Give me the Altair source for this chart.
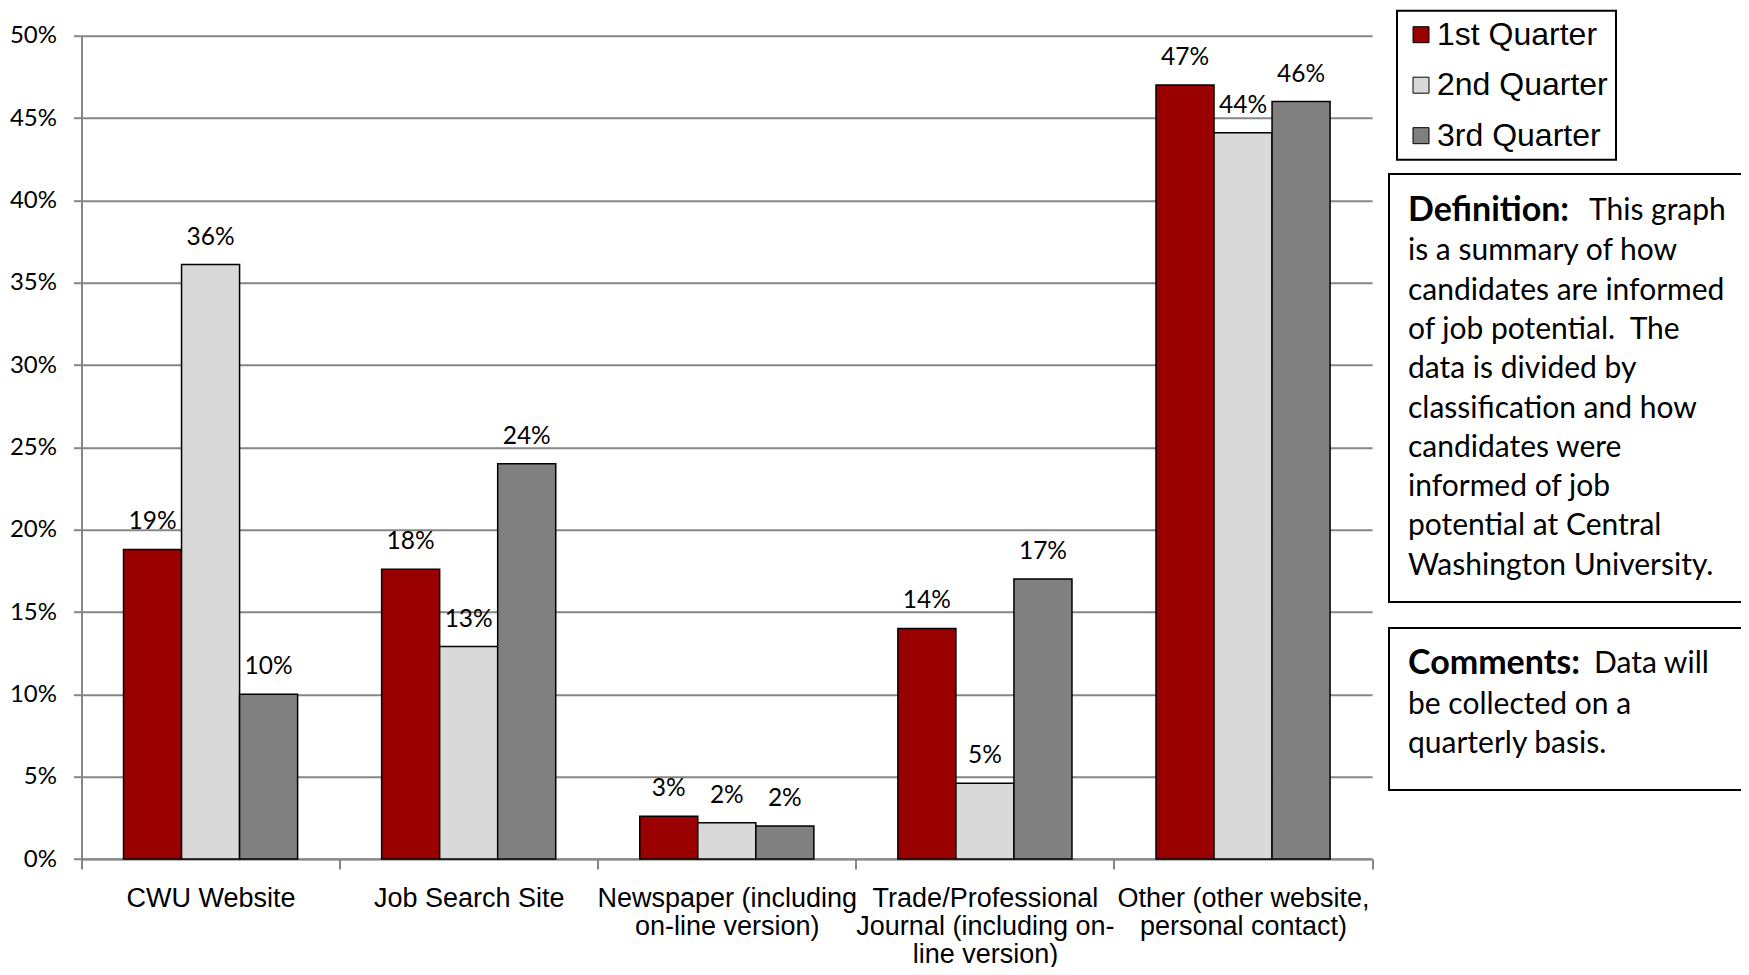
import altair as alt
import pandas as pd

categories = [
    "CWU Website",
    "Job Search Site",
    "Newspaper (including on-line version)",
    "Trade/Professional Journal (including on-line version)",
    "Other (other website, personal contact)",
]
category_lines = [
    ["CWU Website"],
    ["Job Search Site"],
    ["Newspaper (including", "on-line version)"],
    ["Trade/Professional", "Journal (including on-", "line version)"],
    ["Other (other website,", "personal contact)"],
]
quarters = ["1st Quarter", "2nd Quarter", "3rd Quarter"]
q1 = [18.8, 17.6, 2.6, 14.0, 47.0]
q2 = [36.1, 12.9, 2.2, 4.6, 44.1]
q3 = [10.0, 24.0, 2.0, 17.0, 46.0]
colors = ["#9B0000", "#D9D9D9", "#808080"]
y_ticks = [0, 5, 10, 15, 20, 25, 30, 35, 40, 45, 50]

definition_head = "Definition:"
definition_first = "This graph"
definition_rest = [
    "is a summary of how",
    "candidates are informed",
    "of job potential.\u00a0 The",
    "data is divided by",
    "classification and how",
    "candidates were",
    "informed of job",
    "potential at Central",
    "Washington University.",
]
comments_head = "Comments:"
comments_first = "Data will"
comments_rest = ["be collected on a", "quarterly basis."]

rows = []
for q, vals in zip(quarters, [q1, q2, q3]):
    for c, v in zip(categories, vals):
        rows.append({"category": c, "quarter": q, "value": v})
df = pd.DataFrame(rows)

parts = []
for c, lines in zip(categories, category_lines):
    arr = "[" + ",".join("'" + l + "'" for l in lines) + "]"
    parts.append(f"datum.value == '{c}' ? {arr}")
label_expr = " : ".join(parts) + " : datum.label"

GRAY = "#868686"
W, H = 1290.6, 823.3
OX, OY = 81.5, 35.7
SVG_W, SVG_H = 1733, 959

x_enc = alt.X(
    "category:N",
    sort=categories,
    scale=alt.Scale(paddingInner=0, paddingOuter=0),
    axis=alt.Axis(
        title=None,
        labelAngle=0,
        labelExpr=label_expr,
        labelFont="Liberation Sans",
        labelFontSize=27,
        labelLineHeight=28,
        labelColor="black",
        labelLimit=0,
        labelPadding=16,
        tickBand="extent",
        tickSize=10,
        tickWidth=2,
        tickColor=GRAY,
        domainColor=GRAY,
        domainWidth=2,
        grid=False,
    ),
)
xo_enc = alt.XOffset(
    "quarter:N",
    sort=quarters,
    scale=alt.Scale(domain=quarters, paddingInner=0, paddingOuter=0.724),
)
y_enc = alt.Y(
    "value:Q",
    scale=alt.Scale(domain=[0, 50], nice=False),
    axis=alt.Axis(
        title=None,
        values=y_ticks,
        labelExpr="datum.value + '%'",
        labelFont="Lato",
        labelFontSize=24,
        labelColor="black",
        labelPadding=17,
        tickSize=8,
        tickWidth=2,
        tickColor=GRAY,
        domainColor=GRAY,
        domainWidth=2,
        grid=True,
        gridColor=GRAY,
        gridWidth=2,
    ),
)

base = alt.Chart(df)

bars = base.mark_bar(stroke="black", strokeWidth=1.5, opacity=1).encode(
    x=x_enc,
    xOffset=xo_enc,
    y=y_enc,
    color=alt.Color(
        "quarter:N",
        scale=alt.Scale(domain=quarters, range=colors),
        legend=alt.Legend(
            title=None,
            orient="none",
            legendX=1315.5,
            legendY=-25,
            symbolType="square",
            symbolSize=256,
            symbolStrokeColor="black",
            symbolStrokeWidth=1,
            symbolOpacity=1,
            labelFont="Liberation Sans",
            labelFontSize=32,
            labelColor="black",
            labelOffset=0,
            labelLimit=0,
            rowPadding=18.5,
            padding=8,
            symbolOffset=0,
            strokeColor="black",
        ),
    ),
)

labels = base.transform_calculate(
    label="format(datum.value, '.0f') + '%'"
).mark_text(
    baseline="middle", dy=-27, font="Lato", fontSize=24.5, color="black"
).encode(
    x=alt.X("category:N", sort=categories),
    xOffset=alt.XOffset("quarter:N", sort=quarters),
    y="value:Q",
    text="label:N",
)

one = pd.DataFrame({"k": [0]})


def box(x1, y1, x2, y2):
    return alt.Chart(one).mark_rect(fill="white", stroke="black", strokeWidth=2).encode(
        x=alt.value(x1 - OX), x2=alt.value(x2 - OX),
        y=alt.value(y1 - OY), y2=alt.value(y2 - OY),
    )


def txt(x, y, t, size, bold=False, lh=39.3):
    return alt.Chart(one).mark_text(
        align="left", baseline="middle", font="Lato", fontSize=size,
        fontWeight="bold" if bold else "normal", color="black", lineHeight=lh,
    ).encode(x=alt.value(x - OX), y=alt.value(y - OY), text=alt.value(t))


def_box = box(1389, 174, 1760, 602)
com_box = box(1389, 628, 1742, 790)

HEAD, BODY = 34, 30
t1 = txt(1408, 211.2, definition_head, HEAD, bold=True)
t2 = txt(1589, 211.2, definition_first, BODY)
t3 = txt(1408, 251.4, definition_rest, BODY)
t4 = txt(1408, 663.8, comments_head, HEAD, bold=True)
t5 = txt(1594, 663.8, comments_first, BODY)
t6 = txt(1408, 705, comments_rest, BODY, lh=39.1)

chart = alt.layer(bars, labels, def_box, com_box, t1, t2, t3, t4, t5, t6).properties(
    width=W,
    height=H,
    autosize=alt.AutoSizeParams(type="none"),
    padding={
        "left": OX - 8,
        "top": OY - 8,
        "right": SVG_W - (OX - 8) - W,
        "bottom": SVG_H - (OY - 8) - H,
    },
    background="white",
).configure_view(stroke=None).configure_legend(strokeWidth=2)

chart.save("out.html", embed_options={"renderer": "svg", "actions": False})
